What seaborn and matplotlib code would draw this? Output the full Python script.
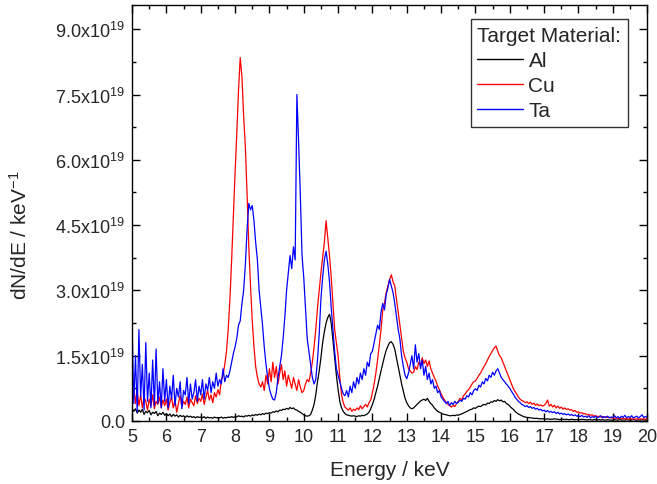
import numpy as np
import pandas as pd
import matplotlib
matplotlib.use("Agg")
import matplotlib.pyplot as plt
from matplotlib.ticker import MultipleLocator, FuncFormatter
import seaborn as sns

# Energy grid (keV), 0.05 keV steps from 5 to 20
energy = np.round(np.linspace(5.0, 20.0, 301), 2)

# dN/dE values in units of 1e19 per keV
al = [
    0.30,0.22,0.28,0.18,0.25,0.20,0.27,0.15,0.22,0.19,0.24,0.14,0.20,0.17,0.22,0.12,0.18,0.15,0.20,0.13,
    0.17,0.12,0.16,0.10,0.15,0.11,0.14,0.09,0.13,0.10,0.12,0.08,0.12,0.09,0.11,0.08,0.10,0.07,0.10,0.08,
    0.09,0.07,0.10,0.06,0.09,0.07,0.08,0.06,0.09,0.07,0.08,0.07,0.09,0.06,0.08,0.07,0.09,0.08,0.10,0.08,
    0.10,0.09,0.12,0.10,0.11,0.09,0.12,0.11,0.13,0.11,0.14,0.12,0.15,0.13,0.16,0.14,0.17,0.15,0.18,0.17,
    0.19,0.18,0.21,0.20,0.23,0.21,0.25,0.24,0.27,0.26,0.29,0.27,0.31,0.28,0.30,0.26,0.25,0.22,0.20,0.17,
    0.14,0.12,0.11,0.12,0.15,0.25,0.38,0.60,0.90,1.15,1.45,1.80,2.05,2.25,2.38,2.45,2.25,1.85,1.45,1.05,
    0.72,0.45,0.30,0.22,0.17,0.14,0.13,0.12,0.11,0.12,0.11,0.10,0.12,0.11,0.13,0.12,0.14,0.16,0.20,0.28,
    0.38,0.50,0.65,0.80,0.98,1.15,1.32,1.48,1.62,1.72,1.80,1.82,1.76,1.65,1.45,1.25,1.05,0.85,0.68,0.52,
    0.42,0.35,0.30,0.28,0.30,0.34,0.38,0.42,0.46,0.48,0.50,0.47,0.52,0.45,0.40,0.36,0.30,0.26,0.22,0.20,
    0.18,0.16,0.15,0.14,0.13,0.12,0.12,0.13,0.12,0.14,0.13,0.15,0.16,0.18,0.20,0.22,0.24,0.26,0.27,0.30,
    0.29,0.32,0.34,0.33,0.36,0.38,0.37,0.41,0.40,0.44,0.43,0.47,0.45,0.49,0.46,0.48,0.44,0.45,0.40,0.38,
    0.34,0.30,0.27,0.22,0.19,0.16,0.14,0.12,0.10,0.09,0.08,0.08,0.07,0.07,0.06,0.06,0.06,0.05,0.05,0.05,
    0.05,0.04,0.05,0.04,0.04,0.04,0.05,0.04,0.04,0.03,0.04,0.04,0.03,0.04,0.03,0.03,0.04,0.03,0.03,0.03,
    0.03,0.03,0.04,0.03,0.03,0.02,0.03,0.03,0.02,0.03,0.03,0.02,0.03,0.02,0.03,0.02,0.02,0.03,0.02,0.02,
    0.02,0.03,0.02,0.02,0.03,0.02,0.02,0.02,0.03,0.02,0.02,0.02,0.03,0.02,0.02,0.02,0.02,0.03,0.02,0.02,
    0.02,
]
cu = [
    0.55,0.80,0.40,0.70,0.35,0.60,0.30,0.55,0.45,0.25,0.50,0.35,0.60,0.28,0.45,0.38,0.55,0.30,0.48,0.35,
    0.50,0.25,0.42,0.55,0.30,0.48,0.20,0.40,0.58,0.32,0.45,0.38,0.55,0.30,0.50,0.42,0.35,0.58,0.40,0.52,
    0.45,0.62,0.38,0.55,0.70,0.48,0.60,0.42,0.65,0.55,0.72,0.60,0.95,1.04,1.30,1.60,2.10,2.80,3.70,4.70,
    5.70,6.60,7.60,8.35,7.90,7.00,6.30,5.20,4.00,3.10,2.30,1.70,1.25,1.00,0.85,0.78,0.90,0.70,1.05,0.85,
    1.20,0.90,1.35,1.00,1.25,0.85,1.10,1.30,0.95,1.15,0.80,1.05,0.90,0.75,1.00,0.85,0.70,0.95,0.78,0.65,
    0.70,0.85,0.95,0.90,1.10,1.35,1.70,2.10,2.60,3.00,3.40,3.75,4.10,4.60,4.20,3.80,3.30,2.70,2.10,1.80,
    1.50,1.00,0.60,0.42,0.32,0.28,0.25,0.30,0.22,0.27,0.24,0.30,0.26,0.35,0.28,0.33,0.38,0.32,0.42,0.48,
    0.65,0.85,1.10,1.40,1.75,2.10,2.55,2.70,2.95,3.10,3.25,3.36,3.20,3.10,2.80,2.50,2.20,1.90,1.60,1.45,
    1.35,1.20,1.15,1.10,1.12,1.25,1.18,1.35,1.28,1.45,1.32,1.40,1.25,1.38,1.20,1.10,1.00,0.92,0.80,0.72,
    0.62,0.55,0.48,0.42,0.38,0.35,0.32,0.36,0.33,0.40,0.45,0.52,0.48,0.58,0.62,0.68,0.72,0.78,0.85,0.90,
    0.92,0.98,1.05,1.10,1.18,1.25,1.32,1.40,1.48,1.55,1.62,1.68,1.72,1.60,1.50,1.45,1.35,1.25,1.15,1.05,
    0.95,0.85,0.75,0.68,0.62,0.55,0.50,0.47,0.45,0.42,0.44,0.40,0.43,0.38,0.41,0.36,0.39,0.35,0.37,0.34,
    0.36,0.40,0.48,0.34,0.38,0.32,0.36,0.30,0.34,0.29,0.32,0.27,0.30,0.26,0.28,0.25,0.26,0.22,0.24,0.20,
    0.21,0.18,0.19,0.16,0.17,0.14,0.15,0.13,0.14,0.11,0.12,0.10,0.11,0.09,0.10,0.08,0.09,0.08,0.08,0.07,
    0.07,0.06,0.07,0.05,0.06,0.05,0.06,0.05,0.05,0.04,0.06,0.04,0.05,0.04,0.05,0.04,0.05,0.04,0.05,0.04,
    0.05,
]
ta = [
    2.25,0.40,1.50,0.20,2.10,0.55,1.30,0.25,1.80,0.45,1.10,0.30,1.40,0.35,1.65,0.40,0.90,0.30,1.20,0.45,
    0.95,0.30,0.80,0.50,1.05,0.35,0.75,0.55,0.90,0.28,0.70,0.60,1.00,0.40,0.85,0.50,0.65,0.95,0.45,0.80,
    0.60,0.95,0.50,0.85,0.70,1.00,0.65,0.90,0.75,1.10,0.80,0.95,0.85,1.20,0.90,1.05,1.00,1.15,1.35,1.55,
    1.70,1.90,2.20,2.30,2.70,3.00,3.60,4.40,5.00,4.85,4.95,4.60,4.10,3.70,3.00,2.60,2.20,1.70,1.30,1.00,
    0.74,0.60,0.50,0.48,0.65,1.00,1.25,1.50,1.90,2.40,3.00,3.40,3.80,3.50,4.00,3.70,7.50,6.40,5.20,3.80,
    3.30,2.60,1.90,1.60,1.30,1.00,0.85,0.95,1.40,2.00,2.80,3.30,3.70,3.90,3.60,3.20,2.60,2.10,1.60,1.20,
    1.05,0.90,0.75,0.62,0.58,0.70,0.55,0.80,0.65,0.90,0.75,1.00,0.85,1.10,0.95,1.20,1.05,1.35,1.25,1.55,
    1.60,1.80,2.00,2.20,2.10,2.50,2.70,2.55,2.90,3.05,3.25,3.10,2.95,2.70,2.40,2.10,1.88,1.50,1.25,1.05,
    0.97,1.10,1.30,1.50,1.20,1.75,1.35,1.55,1.20,1.40,1.05,1.25,0.95,1.10,0.85,0.95,0.75,0.80,0.65,0.70,
    0.55,0.50,0.45,0.40,0.45,0.35,0.42,0.38,0.45,0.40,0.43,0.48,0.45,0.52,0.50,0.58,0.55,0.65,0.60,0.70,
    0.74,0.70,0.82,0.78,0.90,0.85,0.98,0.92,1.05,1.00,1.12,1.05,1.15,1.20,1.10,1.00,0.95,0.90,0.85,0.80,
    0.75,0.68,0.62,0.55,0.50,0.45,0.42,0.38,0.36,0.33,0.35,0.31,0.33,0.29,0.31,0.27,0.29,0.25,0.27,0.23,
    0.25,0.21,0.24,0.20,0.22,0.19,0.21,0.17,0.20,0.16,0.18,0.15,0.17,0.14,0.16,0.13,0.15,0.12,0.14,0.11,
    0.12,0.10,0.13,0.09,0.11,0.08,0.12,0.07,0.10,0.08,0.11,0.07,0.09,0.12,0.07,0.10,0.08,0.11,0.07,0.09,
    0.08,0.12,0.07,0.10,0.06,0.11,0.08,0.13,0.07,0.10,0.08,0.12,0.07,0.09,0.11,0.07,0.10,0.14,0.08,0.10,
    0.09,
]
materials = ["Al", "Cu", "Ta"]
colors = ["#000000", "#ff0000", "#0000ff"]
scale = 1e19

frames = []
for name, vals in zip(materials, [al, cu, ta]):
    frames.append(pd.DataFrame({"Energy": energy, "dNdE": np.array(vals) * scale, "Material": name}))
df = pd.concat(frames, ignore_index=True)

sns.set_style("ticks")
plt.rcParams["font.family"] = ["Liberation Sans", "DejaVu Sans"]
plt.rcParams["mathtext.fontset"] = "custom"
plt.rcParams["mathtext.rm"] = "Liberation Sans"
plt.rcParams["mathtext.it"] = "Liberation Sans"

fig = plt.figure(figsize=(6.57, 4.85), dpi=100)
ax = fig.add_axes([0.201, 0.130, 0.784, 0.857])

sns.lineplot(data=df, x="Energy", y="dNdE", hue="Material", hue_order=materials,
             palette=dict(zip(materials, colors)), linewidth=0.9, ax=ax, estimator=None)

ax.set_xlim(5, 20)
ax.set_ylim(0, 9.55e19)
ax.xaxis.set_major_locator(MultipleLocator(1))
ax.xaxis.set_minor_locator(MultipleLocator(0.5))
ax.yaxis.set_major_locator(MultipleLocator(1.5e19))
ax.yaxis.set_minor_locator(MultipleLocator(0.75e19))

def yfmt(v, pos):
    if abs(v) < 1e10:
        return "0.0"
    return r"$\mathregular{%.1fx10^{19}}$" % (v / 1e19)

ax.yaxis.set_major_formatter(FuncFormatter(yfmt))
ax.tick_params(which="both", direction="in", top=True, right=True, labelsize=13, width=1.0, color="black")
ax.tick_params(which="major", length=6, pad=5)
ax.tick_params(which="minor", length=3)
for s in ax.spines.values():
    s.set_linewidth(1.0)
    s.set_color("black")

ax.set_xlabel("Energy / keV", fontsize=15, labelpad=11)
ax.set_ylabel(r"dN/dE / keV$^{\mathregular{-1}}$", fontsize=15)
ax.yaxis.set_label_coords(-0.197, 0.45)

handles, labels = ax.get_legend_handles_labels()
leg = ax.legend(handles, labels, title="Target Material:", loc="upper right",
                bbox_to_anchor=(0.962, 0.966), fontsize=15, title_fontsize=15,
                frameon=True, fancybox=False, edgecolor="black", handlelength=2.2,
                borderpad=0.3, labelspacing=0.3, handletextpad=0.25, borderaxespad=0.0,
                alignment="left")
leg.get_frame().set_linewidth(1.0)
for line in leg.get_lines():
    line.set_linewidth(1.0)

fig.savefig("out.png", dpi=100)
